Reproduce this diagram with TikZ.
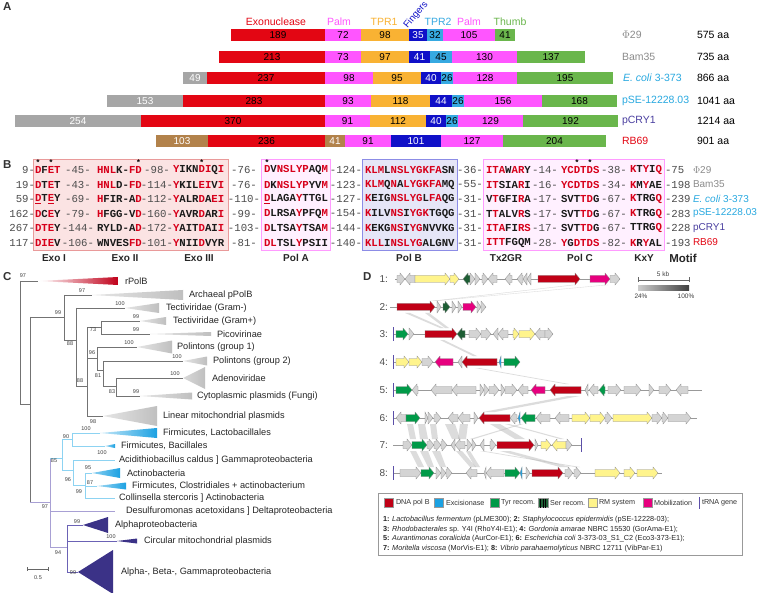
\documentclass[tikz,border=0pt]{standalone}
\usepackage{fontspec}
\setmainfont{Liberation Sans}
\newfontfamily\alnfont{Liberation Mono}
\definecolor{cexo}{HTML}{E30613}
\definecolor{cpalm}{HTML}{FF55FF}
\definecolor{ctpr}{HTML}{F9B233}
\definecolor{cfing}{HTML}{1010C8}
\definecolor{ctprb}{HTML}{36A9E1}
\definecolor{cthumb}{HTML}{6AB64C}
\definecolor{cgrey}{HTML}{A6A6A6}
\definecolor{cbrown}{HTML}{B2824B}
\definecolor{alnred}{HTML}{D7001A}
\definecolor{alnblk}{HTML}{1A1A1A}
\definecolor{exofill}{HTML}{FBE3E3}
\definecolor{exodraw}{HTML}{E99A9A}
\definecolor{pafill}{HTML}{FFF0FF}
\definecolor{padraw}{HTML}{FF9BFF}
\definecolor{pbfill}{HTML}{E6E6F7}
\definecolor{pbdraw}{HTML}{8C8CE6}
\definecolor{namecyan}{HTML}{29A9E0}
\definecolor{namepurp}{HTML}{4A3FA0}
\definecolor{namegray}{HTML}{8C8C8C}
\definecolor{rpol}{HTML}{C0001A}
\definecolor{tcyan}{HTML}{1BA1E2}
\definecolor{tnavy}{HTML}{3B3287}
\definecolor{lcyan}{HTML}{8DD3F2}
\definecolor{lpurp}{HTML}{A8A0D4}
\definecolor{lnavy}{HTML}{6B62B5}
\definecolor{gpol}{HTML}{C00016}
\definecolor{gexc}{HTML}{1BA1E2}
\definecolor{gtyr}{HTML}{009A48}
\definecolor{gser}{HTML}{1D5E34}
\definecolor{grm}{HTML}{FFF48C}
\definecolor{gmob}{HTML}{E6007E}
\definecolor{ggray}{HTML}{D4D4D4}
\definecolor{trnac}{HTML}{5B4FA8}
\newcommand{\rr}[1]{\textcolor{alnred}{#1}}
\newcommand{\bseg}[6]{\fill[#4] (#1,#3-6) rectangle (#2,#3+6); \node[barnum,text=#6] at ({(#1+#2)/2},#3) {#5};}
\def\gy{0}
\newcommand{\gR}[3]{\pgfmathsetmacro{\hx}{max(#1,#2-5)}\draw[gene,fill=#3] (#1,\gy-3.5) -- (\hx,\gy-3.5) -- (\hx,\gy-6) -- (#2,\gy) -- (\hx,\gy+6) -- (\hx,\gy+3.5) -- (#1,\gy+3.5) -- cycle;}
\newcommand{\gL}[3]{\pgfmathsetmacro{\hx}{min(#2,#1+5)}\draw[gene,fill=#3] (#2,\gy-3.5) -- (\hx,\gy-3.5) -- (\hx,\gy-6) -- (#1,\gy) -- (\hx,\gy+6) -- (\hx,\gy+3.5) -- (#2,\gy+3.5) -- cycle;}
\newcommand{\trnaline}[1]{\draw[trnac,line width=1] (#1,\gy-7) -- (#1,\gy+7);}
\newcommand{\band}[6]{\fill[hom] (#1,#3) -- (#2,#3) -- (#5,#6) -- (#4,#6) -- cycle;}
\newcommand{\tri}[5]{\fill[#5] (#1,#3) -- (#2,#3-#4) -- (#2,#3+#4) -- cycle;}
\newcommand{\stri}[6]{\shade[left color=#5,right color=#6] (#1,#3) -- (#2,#3-#4) -- (#2,#3+#4) -- cycle;}
\tikzset{
 every node/.style={inner sep=0pt,outer sep=0pt},
 plet/.style={anchor=west,font=\bfseries\fontsize{11.5}{13}\selectfont,text=black!80},
 barnum/.style={font=\fontsize{10}{11}\selectfont},
 hdr/.style={font=\fontsize{10.5}{12}\selectfont},
 pname/.style={anchor=west,font=\fontsize{10.5}{12}\selectfont},
 bname/.style={anchor=west,font=\fontsize{10}{12}\selectfont},
 res/.style={anchor=west,font=\alnfont\bfseries\fontsize{10.67}{12}\selectfont,text=alnblk},
 spc/.style={font=\alnfont\fontsize{10.67}{12}\selectfont,text=black!70},
 ast/.style={font=\alnfont\bfseries\fontsize{8}{8}\selectfont,text=black},
 motif/.style={font=\bfseries\fontsize{10}{12}\selectfont,text=black!85},
 tl/.style={draw=black!55,line width=0.5},
 tlc/.style={draw=lcyan,line width=0.6},
 tlp/.style={draw=lpurp,line width=0.6},
 tln/.style={draw=lnavy,line width=0.6},
 leaf/.style={anchor=west,font=\fontsize{9.2}{11}\selectfont,text=black!85},
 bs/.style={font=\fontsize{5.5}{6}\selectfont,text=black!75},
 gene/.style={draw=black!45,line width=0.3},
 bb/.style={draw=black!40,line width=0.5},
 hom/.style={fill=black!30,opacity=0.45},
 rowlab/.style={anchor=east,font=\fontsize{10}{11}\selectfont,text=black!70},
 legt/.style={anchor=west,font=\fontsize{7.2}{8}\selectfont,text=black!80},
 legl/.style={anchor=west,font=\fontsize{7.3}{8}\selectfont,text=black!85},
}
\begin{document}
\begin{tikzpicture}[x=1pt,y=-1pt]
\useasboundingbox (0,0) rectangle (757,593);
\fill[white] (0,0) rectangle (757,593);
% ---------------- Panel A
\node[plet] (lA) at (3,7) {A};
\node[hdr,text=cexo] (hexo) at (276,22) {Exonuclease};
\node[hdr,text=cpalm] (hpalm) at (339,22) {Palm};
\node[hdr,text=ctpr] (htpr) at (384,22) {TPR1};
\node[hdr,text=cfing,rotate=50,font=\fontsize{9.5}{11}\selectfont] (hfing) at (416,15) {Fingers};
\node[hdr,text=ctprb] (htprb) at (438,22) {TPR2};
\node[hdr,text=cpalm] (hpalmb) at (469,22) {Palm};
\node[hdr,text=cthumb] (hthumb) at (510,22) {Thumb};
% row 1
\bseg{231}{325}{35}{cexo}{189}{black}
\bseg{325}{361}{35}{cpalm}{72}{black}
\bseg{361}{409}{35}{ctpr}{98}{black}
\bseg{409}{427}{35}{cfing}{35}{white}
\bseg{427}{443}{35}{ctprb}{32}{black}
\bseg{443}{495}{35}{cpalm}{105}{black}
\bseg{495}{515}{35}{cthumb}{41}{black}
\node[pname,text=namegray] (n1) at (622,35) {$\Phi$29};
\node[pname] (a1) at (697,35) {575 aa};
% row 2
\bseg{219}{325}{57}{cexo}{213}{black}
\bseg{325}{361}{57}{cpalm}{73}{black}
\bseg{361}{409}{57}{ctpr}{97}{black}
\bseg{409}{430}{57}{cfing}{41}{white}
\bseg{430}{452}{57}{ctprb}{45}{black}
\bseg{452}{517}{57}{cpalm}{130}{black}
\bseg{517}{585}{57}{cthumb}{137}{black}
\node[pname,text=namegray] (n2) at (622,57) {Bam35};
\node[pname] (a2) at (697,57) {735 aa};
% row 3
\bseg{183}{207}{78}{cgrey}{49}{white}
\bseg{207}{325}{78}{cexo}{237}{black}
\bseg{325}{373}{78}{cpalm}{98}{black}
\bseg{373}{421}{78}{ctpr}{95}{black}
\bseg{421}{441}{78}{cfing}{40}{white}
\bseg{441}{453}{78}{ctprb}{26}{black}
\bseg{453}{517}{78}{cpalm}{128}{black}
\bseg{517}{613}{78}{cthumb}{195}{black}
\node[pname,text=namecyan] (n3) at (623,78) {\textit{E. coli} 3-373};
\node[pname] (a3) at (697,78) {866 aa};
% row 4
\bseg{107}{183}{101}{cgrey}{153}{white}
\bseg{183}{325}{101}{cexo}{283}{black}
\bseg{325}{371}{101}{cpalm}{93}{black}
\bseg{371}{430}{101}{ctpr}{118}{black}
\bseg{430}{452}{101}{cfing}{44}{white}
\bseg{452}{464}{101}{ctprb}{26}{black}
\bseg{464}{542}{101}{cpalm}{156}{black}
\bseg{542}{617}{101}{cthumb}{168}{black}
\node[pname,text=namecyan] (n4) at (622,101) {pSE-12228.03};
\node[pname] (a4) at (697,101) {1041 aa};
% row 5
\bseg{15}{141}{121}{cgrey}{254}{white}
\bseg{141}{325}{121}{cexo}{370}{black}
\bseg{325}{370}{121}{cpalm}{91}{black}
\bseg{370}{426}{121}{ctpr}{112}{black}
\bseg{426}{446}{121}{cfing}{40}{white}
\bseg{446}{458}{121}{ctprb}{26}{black}
\bseg{458}{523}{121}{cpalm}{129}{black}
\bseg{523}{618}{121}{cthumb}{192}{black}
\node[pname,text=namepurp] (n5) at (622,121) {pCRY1};
\node[pname] (a5) at (697,121) {1214 aa};
% row 6
\bseg{156}{208}{141}{cbrown}{103}{white}
\bseg{208}{325}{141}{cexo}{236}{black}
\bseg{325}{345}{141}{cbrown}{41}{white}
\bseg{345}{391}{141}{cpalm}{91}{black}
\bseg{391}{441}{141}{cfing}{101}{white}
\bseg{441}{503}{141}{cpalm}{127}{black}
\bseg{503}{606}{141}{cthumb}{204}{black}
\node[pname,text=cexo] (n6) at (622,141) {RB69};
\node[pname] (a6) at (697,141) {901 aa};
% ---------------- Panel B
\node[plet] (lB) at (3,165) {B};
\filldraw[fill=exofill,draw=exodraw,line width=0.8] (33,159) rectangle (228,250);
\filldraw[fill=pafill,draw=padraw,line width=0.8] (261,159) rectangle (330,250);
\filldraw[fill=pbfill,draw=pbdraw,line width=0.8] (362,159) rectangle (457,250);
\filldraw[fill=pafill,draw=padraw,line width=0.8] (483,159) rectangle (664,250);
\foreach \ax in {38,51,138.6,201.8,267,577,590} \node[ast] at (\ax,162.5) {*};
% row 1
\def\ry{170}
\node[spc,anchor=east] at (35,\ry) {9-};
\node[res] at (35,\ry) {\rr{D}F\rr{ET}};
\node[spc] at (78,\ry) {-45-};
\node[res] at (97,\ry) {\rr{HNL}K-\rr{FD}};
\node[spc] at (157,\ry) {-98-};
\node[res] at (173,\ry) {\rr{Y}IKN\rr{DI}Q\rr{I}};
\node[spc] at (244,\ry) {-76-};
\node[res] at (264,\ry) {\rr{D}V\rr{NSLYP}AQ\rr{M}};
\node[spc] at (346,\ry) {-124-};
\node[res] at (365,\ry) {\rr{KLM}L\rr{NSLYGKFA}SN};
\node[spc] at (470,\ry) {-36-};
\node[res] at (486,\ry) {\rr{ITA}W\rr{AR}Y};
\node[spc] at (545,\ry) {-14-};
\node[res] at (561,\ry) {\rr{YCDTDS}};
\node[spc] at (614,\ry) {-38-};
\node[res] at (630,\ry) {\rr{K}T\rr{Y}I\rr{Q}};
\node[spc,anchor=west] at (665,\ry) {-75};
\node[bname,text=namegray] at (693,\ry) {$\Phi$29};
% row 2
\def\ry{184.5}
\node[spc,anchor=east] at (35,\ry) {19-};
\node[res] at (35,\ry) {\rr{D}T\rr{E}T};
\node[spc] at (78,\ry) {-43-};
\node[res] at (97,\ry) {\rr{HNL}D-\rr{FD}};
\node[spc] at (157,\ry) {-114-};
\node[res] at (173,\ry) {\rr{Y}KIL\rr{EI}V\rr{I}};
\node[spc] at (244,\ry) {-76-};
\node[res] at (264,\ry) {\rr{D}K\rr{NSLYP}YV\rr{M}};
\node[spc] at (346,\ry) {-123-};
\node[res] at (365,\ry) {\rr{KLM}Q\rr{N}A\rr{LYGKFA}MQ};
\node[spc] at (470,\ry) {-55-};
\node[res] at (486,\ry) {\rr{IT}SIA\rr{R}I};
\node[spc] at (545,\ry) {-16-};
\node[res] at (561,\ry) {\rr{YCDTDS}};
\node[spc] at (614,\ry) {-34-};
\node[res] at (630,\ry) {\rr{K}M\rr{Y}AE};
\node[spc,anchor=west] at (665,\ry) {-198};
\node[bname,text=namegray] at (693,\ry) {Bam35};
% row 3
\def\ry{199}
\node[spc,anchor=east] at (35,\ry) {59-};
\node[res] at (35,\ry) {\rr{\underline{D}}T\rr{\underline{E}}Y};
\node[spc] at (78,\ry) {-69-};
\node[res] at (97,\ry) {\rr{H}FIR-A\rr{D}};
\node[spc] at (157,\ry) {-112-};
\node[res] at (173,\ry) {\rr{Y}ALR\rr{D}A\rr{EI}};
\node[spc] at (244,\ry) {-110-};
\node[res] at (264,\ry) {\rr{\underline{D}}LAGA\rr{Y}TTGL};
\node[spc] at (346,\ry) {-127-};
\node[res] at (365,\ry) {\rr{K}EIG\rr{NSLYG}L\rr{FA}QG};
\node[spc] at (470,\ry) {-31-};
\node[res] at (486,\ry) {V\rr{T}GFI\rr{R}A};
\node[spc] at (545,\ry) {-17-};
\node[res] at (561,\ry) {SVT\rr{TD}G};
\node[spc] at (614,\ry) {-67-};
\node[res] at (630,\ry) {\rr{K}TRG\rr{Q}};
\node[spc,anchor=west] at (665,\ry) {-239};
\node[bname,text=namecyan] at (693,\ry) {\textit{E. coli} 3-373};
% row 4
\def\ry{213.5}
\node[spc,anchor=east] at (35,\ry) {162-};
\node[res] at (35,\ry) {\rr{D}C\rr{E}Y};
\node[spc] at (78,\ry) {-79-};
\node[res] at (97,\ry) {\rr{H}FGG-V\rr{D}};
\node[spc] at (157,\ry) {-160-};
\node[res] at (173,\ry) {\rr{Y}AVR\rr{D}AR\rr{I}};
\node[spc] at (244,\ry) {-99-};
\node[res] at (264,\ry) {\rr{D}LRSA\rr{Y}PFQ\rr{M}};
\node[spc] at (346,\ry) {-154-};
\node[res] at (365,\ry) {\rr{K}ILV\rr{NS}I\rr{YGK}TGQG};
\node[spc] at (470,\ry) {-31-};
\node[res] at (486,\ry) {T\rr{T}ALV\rr{R}S};
\node[spc] at (545,\ry) {-17-};
\node[res] at (561,\ry) {SVT\rr{TD}G};
\node[spc] at (614,\ry) {-67-};
\node[res] at (630,\ry) {\rr{K}TRG\rr{Q}};
\node[spc,anchor=west] at (665,\ry) {-283};
\node[bname,text=namecyan] at (693,\ry) {pSE-12228.03};
% row 5
\def\ry{228}
\node[spc,anchor=east] at (35,\ry) {267-};
\node[res] at (35,\ry) {\rr{DTE}Y};
\node[spc] at (78,\ry) {-144-};
\node[res] at (97,\ry) {RYLD-A\rr{D}};
\node[spc] at (157,\ry) {-172-};
\node[res] at (173,\ry) {\rr{Y}AIT\rr{D}AI\rr{I}};
\node[spc] at (244,\ry) {-103-};
\node[res] at (264,\ry) {\rr{D}LTSA\rr{Y}TSA\rr{M}};
\node[spc] at (346,\ry) {-144-};
\node[res] at (365,\ry) {\rr{K}EKG\rr{NS}I\rr{YG}NVVKG};
\node[spc] at (470,\ry) {-31-};
\node[res] at (486,\ry) {\rr{ITA}FI\rr{RS}};
\node[spc] at (545,\ry) {-17-};
\node[res] at (561,\ry) {SVT\rr{TD}G};
\node[spc] at (614,\ry) {-67-};
\node[res] at (630,\ry) {TTRG\rr{Q}};
\node[spc,anchor=west] at (665,\ry) {-228};
\node[bname,text=namepurp] at (693,\ry) {pCRY1};
% row 6
\def\ry{242.5}
\node[spc,anchor=east] at (35,\ry) {117-};
\node[res] at (35,\ry) {\rr{DIE}V};
\node[spc] at (78,\ry) {-106-};
\node[res] at (97,\ry) {WNVES\rr{FD}};
\node[spc] at (157,\ry) {-101-};
\node[res] at (173,\ry) {\rr{Y}NII\rr{D}VYR};
\node[spc] at (244,\ry) {-81-};
\node[res] at (264,\ry) {\rr{DL}TSL\rr{Y}PSII};
\node[spc] at (346,\ry) {-140-};
\node[res] at (365,\ry) {\rr{KLL}I\rr{NSLYG}ALGNV};
\node[spc] at (470,\ry) {-31-};
\node[res] at (486,\ry) {\rr{ITT}FGQM};
\node[spc] at (545,\ry) {-28-};
\node[res] at (561,\ry) {\rr{Y}G\rr{DTDS}};
\node[spc] at (614,\ry) {-82-};
\node[res] at (630,\ry) {\rr{K}R\rr{Y}AL};
\node[spc,anchor=west] at (665,\ry) {-193};
\node[bname,text=cexo] at (693,\ry) {RB69};
% motif labels
\node[motif] (m1) at (54,258) {Exo I};
\node[motif] (m2) at (125,258) {Exo II};
\node[motif] (m3) at (199,258) {Exo III};
\node[motif] (m4) at (296,258) {Pol A};
\node[motif] (m5) at (409,258) {Pol B};
\node[motif] (m6) at (506,258) {Tx2GR};
\node[motif] (m7) at (580,258) {Pol C};
\node[motif] (m8) at (644,258) {KxY};
\node[motif,font=\bfseries\fontsize{11.5}{13}\selectfont] (m9) at (683,258) {Motif};
% ---------------- Panel C
\node[plet] (lC) at (3,277) {C};
\stri{38}{118}{281}{4}{white}{rpol}
\stri{92}{183}{295}{5}{black!10}{black!25}
\stri{125}{159}{308}{5}{black!10}{black!25}
\stri{140}{166}{321}{4}{black!10}{black!25}
\stri{150}{211}{334}{2}{black!10}{black!25}
\stri{137}{172}{347}{6.5}{black!10}{black!25}
\stri{183}{207}{361}{4.5}{black!10}{black!25}
\stri{183}{205}{378}{11}{black!15}{black!25}
\stri{140}{192}{396}{3.5}{black!10}{black!25}
\stri{103}{157}{416}{10}{black!10}{black!25}
\stri{100}{157}{433}{5}{tcyan!25}{tcyan}
\stri{105}{115}{446}{2}{tcyan!40}{tcyan}
\stri{92}{120}{473}{5}{tcyan!50}{tcyan}
\stri{97}{126}{486}{3.5}{tcyan!40}{tcyan}
\tri{83}{108}{525}{8}{tnavy}
\tri{117}{137}{541}{2.5}{tnavy}
\tri{78}{113}{572}{22}{tnavy}
\draw[tl] (20,281) -- (20,404) (20,281) -- (38,281) (20,404) -- (30,404);
\draw[tl] (30,317) -- (30,502) (30,317) -- (64,317);
\draw[tl] (64,295) -- (64,340) (64,295) -- (92,295) (64,340) -- (76,340);
\draw[tl] (76,308) -- (76,386) (76,308) -- (125,308) (76,386) -- (87,386);
\draw[tl] (87,327) -- (87,416) (87,327) -- (101,327) (87,358) -- (97,358) (87,416) -- (103,416);
\draw[tl] (101,321) -- (101,334) (101,321) -- (140,321) (101,334) -- (150,334);
\draw[tl] (97,347) -- (97,370) (97,347) -- (137,347) (97,370) -- (103,370);
\draw[tl] (103,361) -- (103,386) (103,361) -- (183,361) (103,386) -- (116,386);
\draw[tl] (116,378) -- (116,396) (116,378) -- (183,378) (116,396) -- (140,396);
\draw[tlp] (30,502) -- (50,502) (50,458) -- (50,547) (50,511) -- (115,511) (50,547) -- (67,547);
\draw[tlc] (50,458) -- (62,458) (62,439) -- (62,470) (62,439) -- (72,439) (62,470) -- (73,470);
\draw[tlc] (72,433) -- (72,446) (72,433) -- (100,433) (72,446) -- (105,446);
\draw[tlc] (73,460) -- (73,485) (73,460) -- (115,460) (73,485) -- (85,485);
\draw[tlc] (85,473) -- (85,498) (85,473) -- (92,473) (85,486) -- (97,486) (85,498) -- (115,498);
\draw[tln] (67,525) -- (67,572) (67,525) -- (83,525) (67,541) -- (117,541) (67,572) -- (78,572);
\node[leaf] at (125,281) {rPolB};
\node[leaf] at (189,295) {Archaeal pPolB};
\node[leaf] at (166,308) {Tectiviridae (Gram-)};
\node[leaf] at (173,321) {Tectiviridae (Gram+)};
\node[leaf] at (217,334) {Picovirinae};
\node[leaf] at (177,347) {Polintons (group 1)};
\node[leaf] at (213,361) {Polintons (group 2)};
\node[leaf] at (212,378) {Adenoviridae};
\node[leaf] at (197,396) {Cytoplasmic plasmids (Fungi)};
\node[leaf] at (163,416) {Linear mitochondrial plasmids};
\node[leaf] at (163,433) {Firmicutes, Lactobacillales};
\node[leaf] at (121,446) {Firmicutes, Bacillales};
\node[leaf] at (119,460) {Acidithiobacillus caldus ] Gammaproteobacteria};
\node[leaf] at (127,473) {Actinobacteria};
\node[leaf] at (132,486) {Firmicutes, Clostridiales + actinobacterium};
\node[leaf] at (119,498) {Collinsella stercoris ] Actinobacteria};
\node[leaf] at (126,511) {Desulfuromonas acetoxidans ] Deltaproteobacteria};
\node[leaf] at (115,525) {Alphaproteobacteria};
\node[leaf] at (144,541) {Circular mitochondrial plasmids};
\node[leaf] at (121,572) {Alpha-, Beta-, Gammaproteobacteria};
\foreach \bx/\by/\bt in {23/276/97, 58/313/99, 82/291/97, 70/344/88, 120/304/100, 80/381/88, 136/317/99, 136/330/99, 93/330/73, 129/343/100, 92/353/96, 177/357/100, 98/376/81, 175/374/100, 112/392/83, 136/392/99, 93/422/98, 86/429/100, 66/437/90, 102/453/100, 54/461/85, 68/480/96, 88/468/95, 90/483/87, 79/492/99, 45/507/97, 77/522/99, 111/537/100, 58/553/94, 73/573/99}
  \node[bs] at (\bx,\by) {\bt};
\draw[black!60,line width=0.5] (27,569) -- (48,569) (27,567) -- (27,571) (48,567) -- (48,571);
\node[bs] (sc) at (38,578) {0.5};
% ---------------- Panel D
\node[plet] (lD) at (363,277) {D};
\draw[black!60,line width=0.5] (638,280) -- (689,280) (638,277.5) -- (638,282.5) (689,277.5) -- (689,282.5);
\node[bs,font=\fontsize{6.5}{7}\selectfont] (kb) at (663,274) {5 kb};
\shade[left color=black!20,right color=black!75] (638,286) rectangle (689,291);
\node[bs,font=\fontsize{6.5}{7}\selectfont] (p24) at (641,296.5) {24\%};
\node[bs,font=\fontsize{6.5}{7}\selectfont] (p100) at (686,296.5) {100\%};
\band{571}{575}{285}{431}{435}{301}
\band{604}{608}{285}{432}{436}{301}
\band{405}{410}{313}{440}{444}{328}
\band{425}{429}{313}{445}{449}{328}
\band{440}{444}{340}{473}{477}{356}
\band{475}{479}{368}{565}{569}{384}
\band{568}{580}{396}{483}{495}{412}
\band{407}{413}{424}{410}{416}{439}
\band{418}{425}{424}{420}{428}{439}
\band{430}{436}{424}{432}{438}{439}
\band{445}{455}{424}{452}{460}{439}
\band{460}{468}{424}{458}{466}{439}
\band{490}{500}{424}{515}{525}{439}
\band{505}{509}{424}{560}{564}{439}
\band{520}{523}{424}{470}{474}{439}
\band{410}{416}{451}{418}{424}{467}
\band{420}{428}{451}{428}{434}{467}
\band{432}{440}{451}{440}{446}{467}
\band{456}{462}{451}{470}{476}{467}
\band{466}{470}{451}{475}{480}{467}
\band{500}{510}{451}{560}{570}{467}
\band{480}{484}{451}{575}{580}{467}
\def\gy{279}
\node[rowlab] at (388,\gy) {1:};
\draw[bb] (395,\gy) -- (620,\gy);
\gR{397}{405}{ggray}\gL{405}{415}{ggray}\gR{415}{450}{grm}\gR{450}{459}{grm}\gL{463}{470}{gser}
\gR{470}{475}{ggray}\gR{475}{480}{ggray}\gR{482}{488}{ggray}\gL{488}{497}{ggray}\gL{505}{512}{ggray}
\gL{517}{523}{ggray}\gL{523}{527}{ggray}\gL{527}{531}{ggray}\gR{538}{580}{gpol}\gR{590}{610}{gmob}\gR{610}{620}{ggray}
\def\gy{307}
\node[rowlab] at (388,\gy) {2:};
\draw[bb] (390,\gy) -- (486,\gy);
\gR{397}{435}{gpol}\gR{437}{441}{ggray}\gR{443}{450}{gser}\gR{452}{456}{ggray}\gR{458}{462}{ggray}
\gR{463}{476}{gmob}\gR{477}{481}{ggray}\gR{481}{486}{ggray}
\def\gy{334}
\node[rowlab] at (388,\gy) {3:};
\draw[bb] (393,\gy) -- (553,\gy);
\trnaline{393}
\gR{396}{408}{gtyr}\gR{409}{414}{ggray}\gR{425}{457}{gpol}\gL{457}{465}{gser}\gR{469}{481}{ggray}
\gR{481}{491}{ggray}\gL{493}{498}{ggray}\gL{498}{508}{ggray}\gR{513}{519}{grm}\gR{519}{535}{grm}
\gL{535}{545}{ggray}\gR{545}{553}{ggray}
\def\gy{362}
\node[rowlab] at (388,\gy) {4:};
\draw[bb] (393,\gy) -- (520,\gy);
\trnaline{393}
\gR{396}{409}{grm}\gR{409}{422}{grm}\gR{422}{433}{ggray}\gL{435}{453}{gmob}\gL{458}{462}{ggray}
\gL{462}{497}{gpol}\gL{499}{501}{gexc}\gR{504}{520}{gtyr}
\def\gy{390}
\node[rowlab] at (388,\gy) {5:};
\draw[bb] (393,\gy) -- (702,\gy);
\trnaline{393}
\gR{396}{412}{gtyr}\gL{412}{418}{ggray}\gL{431}{452}{ggray}\gL{452}{476}{ggray}\gR{480}{484}{ggray}
\gR{484}{489}{ggray}\gR{489}{499}{ggray}\gR{501}{505}{ggray}\gR{505}{517}{ggray}\gL{518}{528}{ggray}
\gL{531}{545}{gmob}\gL{550}{581}{gpol}\gL{585}{588}{ggray}\gL{589}{598}{ggray}\gL{599}{605}{gtyr}
\gR{608}{621}{ggray}\gR{624}{641}{ggray}\gR{649}{654}{ggray}\gR{659}{671}{ggray}\gL{676}{688}{ggray}
\def\gy{418}
\node[rowlab] at (388,\gy) {6:};
\draw[bb] (393,\gy) -- (697,\gy);
\trnaline{393}
\gL{396}{406}{ggray}\gR{406}{420}{gtyr}\gR{425}{428}{ggray}\gR{428}{433}{ggray}\gR{434}{441}{ggray}
\gL{448}{458}{ggray}\gL{458}{470}{ggray}\gR{474}{478}{ggray}\gL{479}{510}{gpol}\gL{510}{517}{ggray}
\gL{518}{520}{gexc}\gL{521}{535}{gtyr}\gL{536}{550}{ggray}\gL{555}{569}{ggray}\gR{572}{590}{grm}
\gR{590}{605}{grm}\gR{605}{612}{ggray}\gR{613}{652}{grm}\gR{652}{662}{ggray}\gR{662}{668}{ggray}\gR{668}{691}{ggray}
\def\gy{445}
\node[rowlab] at (388,\gy) {7:};
\draw[bb] (393,\gy) -- (581,\gy);
\gR{403}{412}{ggray}\gR{412}{427}{gtyr}\gR{427}{434}{ggray}\gR{434}{441}{ggray}\gR{441}{447}{ggray}
\gL{451}{455}{ggray}\gL{455}{465}{ggray}\gR{467}{472}{ggray}\gR{472}{476}{ggray}\gL{480}{484}{ggray}
\gR{490}{496}{ggray}\gR{497}{534}{gpol}\gR{535}{538}{ggray}\gR{541}{551}{grm}\gL{552}{566}{grm}\gR{566}{572}{ggray}
\trnaline{581}
\def\gy{473}
\node[rowlab] at (388,\gy) {8:};
\draw[bb] (393,\gy) -- (662,\gy);
\trnaline{393}
\gR{400}{421}{ggray}\gR{421}{434}{gtyr}\gR{436}{441}{ggray}\gR{441}{446}{ggray}\gR{446}{452}{ggray}
\gL{466}{477}{ggray}\gL{484}{486}{ggray}\gL{486}{504}{ggray}\gR{505}{520}{gtyr}\gL{520}{522}{gexc}
\gR{526}{530}{ggray}\gR{532}{563}{gpol}\gR{565}{573}{ggray}\gR{574}{581}{ggray}\gR{595}{620}{grm}
\gR{624}{635}{grm}\gR{637}{658}{grm}
\draw[black!40,line width=0.6] (378,493) rectangle (742,555);
\filldraw[fill=gpol,draw=black!40,line width=0.3] (384,498.5) rectangle (393,507.5);
\node[legt] at (396,503) {DNA pol B};
\filldraw[fill=gexc,draw=black!40,line width=0.3] (434,498.5) rectangle (443,507.5);
\node[legt] at (446,503) {Excisionase};
\filldraw[fill=gtyr,draw=black!40,line width=0.3] (490,498.5) rectangle (499,507.5);
\node[legt] at (501,503) {Tyr recom.};
\filldraw[fill=gser,draw=black!40,line width=0.3] (538,498.5) rectangle (548,507.5);
\foreach \sx in {540.5,543,545.5} \draw[black,line width=0.6] (\sx,498.5) -- (\sx,507.5);
\node[legt] at (550,503) {Ser recom.};
\filldraw[fill=grm,draw=black!40,line width=0.3] (588,498.5) rectangle (597,507.5);
\node[legt] at (599,503) {RM system};
\filldraw[fill=gmob,draw=black!40,line width=0.3] (643,498.5) rectangle (652,507.5);
\node[legt] at (654,503) {Mobilization};
\draw[trnac,line width=1] (699,497) -- (699,509);
\node[legt] at (702,503) {tRNA gene};
\node[legl] at (383,520) {\textbf{1:} \textit{Lactobacillus fermentum} (pLME300); \textbf{2:} \textit{Staphylococcus epidermidis} (pSE-12228-03);};
\node[legl] at (383,529.5) {\textbf{3:} \textit{Rhodobacterales} sp. Y4I (RhoY4I-E1); \textbf{4:} \textit{Gordonia amarae} NBRC 15530 (GorAma-E1);};
\node[legl] at (383,539) {\textbf{5:} \textit{Aurantimonas coralicida} (AurCor-E1); \textbf{6:} \textit{Escherichia coli} 3-373-03\_S1\_C2 (Eco3-373-E1);};
\node[legl] at (383,548.5) {\textbf{7:} \textit{Moritella viscosa} (MorVis-E1); \textbf{8:} \textit{Vibrio parahaemolyticus} NBRC 12711 (VibPar-E1)};
\end{tikzpicture}
\end{document}
